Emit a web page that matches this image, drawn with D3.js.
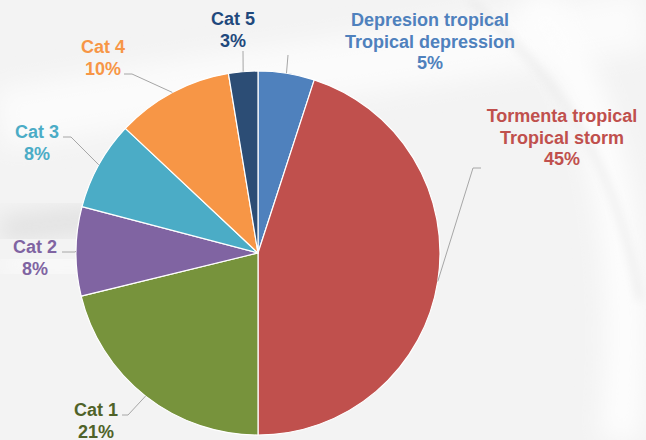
<!DOCTYPE html>
<html>
<head>
<meta charset="utf-8">
<script src="https://cdn.jsdelivr.net/npm/d3@7"></script>
<style>
  html, body { margin: 0; padding: 0; background: #f3f3f3; }
  svg { display: block; }
</style>
</head>
<body>
<svg width="646" height="440"></svg>
<script>
// data, clockwise from 12 o'clock
var categories = ["Depresion tropical", "Tormenta tropical", "Cat 1", "Cat 2", "Cat 3", "Cat 4", "Cat 5"];
var englishNames = ["Tropical depression", "Tropical storm", null, null, null, null, null];
var shares = [5, 45, 21.2, 7.9, 7.9, 10.4, 2.6];
var sliceColors = ["#4f81bd", "#c0504d", "#77933c", "#8064a2", "#4bacc6", "#f79646", "#2c4d75"];
var labelColors = ["#4f81bd", "#c0504d", "#4f6228", "#8064a2", "#4bacc6", "#f79646", "#1f497d"];

// label layout: centre x, first baseline, elbow and end of the leader line
var labelLayout = [
    {x: 430, y: 26, elbow: [288, 55], end: [288, 55]},
    {x: 562, y: 122, elbow: [473, 168], end: [481, 168]},
    {x: 96, y: 416, elbow: [128, 415], end: [122, 415]},
    {x: 35, y: 253, elbow: [75, 252], end: [62, 252]},
    {x: 37, y: 138, elbow: [71, 137], end: [63, 137]},
    {x: 103, y: 53, elbow: [132, 74], end: [124, 74]},
    {x: 233, y: 25, elbow: [243, 51], end: [243, 51]}
];

var svg = d3.select("svg");
var cx = 258, cy = 253, r = 182;

// soft background swooshes
var defs = svg.append("defs");
var blur = defs.append("filter").attr("id", "blur").attr("x", "-50%").attr("y", "-50%")
    .attr("width", "200%").attr("height", "200%");
blur.append("feGaussianBlur").attr("stdDeviation", 12);
var blur2 = defs.append("filter").attr("id", "blur2").attr("x", "-50%").attr("y", "-50%")
    .attr("width", "200%").attr("height", "200%");
blur2.append("feGaussianBlur").attr("stdDeviation", 5);

svg.append("rect").attr("width", 646).attr("height", 440).attr("fill", "#f3f3f3");
var bg = svg.append("g");
bg.append("path")
    .attr("d", "M0,120 C150,90 420,60 646,20")
    .attr("fill", "none").attr("stroke", "#fbfbfb").attr("stroke-width", 60)
    .attr("filter", "url(#blur)");
bg.append("path")
    .attr("d", "M0,230 C60,222 120,215 200,212")
    .attr("fill", "none").attr("stroke", "#dedede").attr("stroke-width", 22)
    .attr("filter", "url(#blur)");
bg.append("path")
    .attr("d", "M0,265 C80,262 160,262 260,270")
    .attr("fill", "none").attr("stroke", "#f9f9f9").attr("stroke-width", 30)
    .attr("filter", "url(#blur)");
bg.append("path")
    .attr("d", "M530,0 C600,90 640,220 620,440")
    .attr("fill", "none").attr("stroke", "#fdfdfd").attr("stroke-width", 40)
    .attr("filter", "url(#blur)");
bg.append("path")
    .attr("d", "M470,0 C560,80 615,160 640,300")
    .attr("fill", "none").attr("stroke", "#e6e6e6").attr("stroke-width", 4)
    .attr("filter", "url(#blur2)");

var pie = d3.pie().sort(null).value(function(d) { return d; });
var arcs = pie(shares);
var arc = d3.arc().innerRadius(0).outerRadius(r);

var g = svg.append("g").attr("transform", "translate(" + cx + "," + cy + ")");

g.selectAll(".slice")
    .data(arcs)
    .enter().append("path")
    .attr("class", "slice")
    .attr("d", arc)
    .attr("fill", function(d, i) { return sliceColors[i]; })
    .attr("stroke", "#ffffff")
    .attr("stroke-width", 1.2)
    .attr("stroke-linejoin", "round");

// leader lines from the middle of each slice edge
svg.selectAll(".leader")
    .data(arcs)
    .enter().append("polyline")
    .attr("class", "leader")
    .attr("points", function(d, i) {
        var a = (d.startAngle + d.endAngle) / 2;
        var sx = cx + r * Math.sin(a), sy = cy - r * Math.cos(a);
        var L = labelLayout[i];
        return [[sx, sy], L.elbow, L.end].map(function(p) { return p.join(","); }).join(" ");
    })
    .attr("fill", "none")
    .attr("stroke", "#a6a6a6")
    .attr("stroke-width", 1);

// labels
var labels = svg.selectAll(".lbl")
    .data(arcs)
    .enter().append("text")
    .attr("class", "lbl")
    .attr("text-anchor", "middle")
    .attr("font-family", "'Liberation Sans', Arial, sans-serif")
    .attr("font-weight", "bold")
    .attr("font-size", 18)
    .attr("fill", function(d, i) { return labelColors[i]; });

labels.each(function(d, i) {
    var t = d3.select(this);
    var L = labelLayout[i];
    var lines = [categories[i]];
    if (englishNames[i]) lines.push(englishNames[i]);
    lines.push(Math.round(d.value) + "%");
    lines.forEach(function(s, k) {
        t.append("tspan").attr("x", L.x).attr("y", L.y + k * 21.5).text(s);
    });
});
</script>
</body>
</html>
